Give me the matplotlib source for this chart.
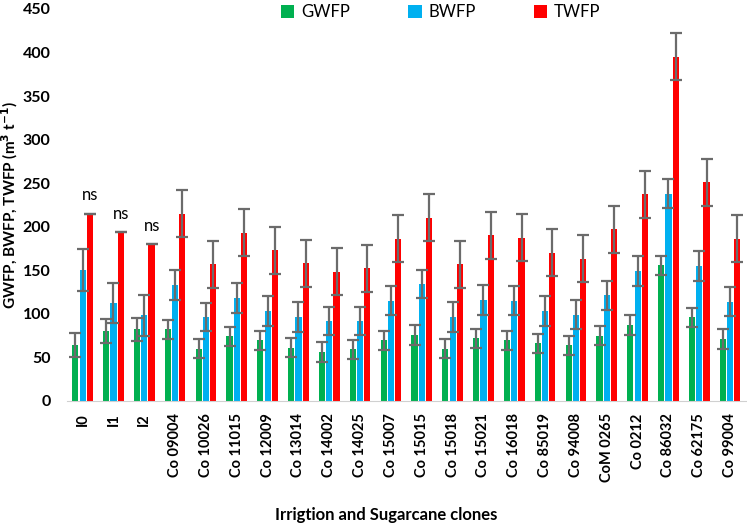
import numpy as np
import matplotlib.pyplot as plt

plt.rcParams['font.family'] = ['Lato', 'DejaVu Sans']

clones = ["I0", "I1", "I2", "Co 09004", "Co 10026", "Co 11015", "Co 12009",
          "Co 13014", "Co 14002", "Co 14025", "Co 15007", "Co 15015",
          "Co 15018", "Co 15021", "Co 16018", "Co 85019", "Co 94008",
          "CoM 0265", "Co 0212", "Co 86032", "Co 62175", "Co 99004"]

gwfp = [64, 80, 82, 82, 60, 74, 69.5, 61, 56, 59, 69.5, 75.5,
        60, 72, 69.5, 66, 64, 75, 87, 155.5, 96, 71]
bwfp = [150.5, 112, 98, 133, 96, 118, 103, 96, 92, 92, 115, 134,
        96, 116, 115, 103, 99, 121, 149, 238, 155, 114]
twfp = [214, 194, 180, 215, 157, 193, 173, 158, 148, 152, 186, 210,
        157, 190, 187, 170, 163, 197, 237, 395, 251, 186]

gwfp_err = [14, 14, 13, 11, 11, 11, 11, 11, 11, 11, 11, 11,
            11, 11, 11, 11, 11, 11, 11, 11, 11, 11]
bwfp_err = [24, 23, 24, 17, 16, 17, 17, 17, 16, 16, 17, 16,
            17, 17, 17, 17, 17, 17, 17, 17, 17, 17]
twfp_err = [0, 0, 0, 27, 27, 27, 27, 27, 27, 27, 27, 27,
            27, 27, 27, 27, 27, 27, 27, 27, 27, 27]

ns_labels = ["ns", "ns", "ns"]
ns_heights = [236, 215, 201]

x = np.arange(len(clones))
w = 0.2
off = 0.235

fig = plt.figure(figsize=(7.47, 5.26), dpi=100)
ax = fig.add_axes([0.09, 0.238, 0.908, 0.745])

ekw = dict(ecolor="#6b6b6b", elinewidth=1.6, capsize=4, capthick=1.6)
ax.bar(x - off, gwfp, w, yerr=gwfp_err, color="#00B050", label="GWFP", error_kw=ekw)
ax.bar(x, bwfp, w, yerr=bwfp_err, color="#00B0F0", label="BWFP", error_kw=ekw)
ax.bar(x + off, twfp, w, yerr=twfp_err, color="#FF0000", label="TWFP", error_kw=ekw)

for i, (lab, h) in enumerate(zip(ns_labels, ns_heights)):
    ax.text(i + 0.25, h, lab, ha="center", va="center", fontsize=12)

ax.set_xlim(-0.5, 21.5)
ax.set_ylim(0, 450)
ax.set_yticks(range(0, 451, 50))
ax.set_xticks(x)
ax.set_xticklabels(clones, rotation=90, fontsize=10.5, fontweight="bold")
for lab in ax.get_yticklabels():
    lab.set_fontweight("bold")
ax.tick_params(axis="y", labelsize=11.5, length=0, pad=12)
ax.tick_params(axis="x", length=0, pad=9)

for s in ["top", "right", "left"]:
    ax.spines[s].set_visible(False)
ax.spines["bottom"].set_color("#d0d0d0")

ax.set_ylabel("GWFP, BWFP, TWFP (m$^\\mathbf{3}$ t$^\\mathbf{-1}$)",
              fontsize=11, fontweight="bold")
ax.yaxis.set_label_coords(-0.07, 0.5)
ax.set_xlabel("Irrigtion and Sugarcane clones", fontsize=12, fontweight="bold")
ax.xaxis.set_label_coords(0.47, -0.27)

fig.legend(loc="center", bbox_to_anchor=(0.59, 0.977), ncol=3, frameon=False,
           fontsize=12, handlelength=0.8, handleheight=0.8, columnspacing=3.5,
           handletextpad=0.4)

fig.savefig("out.png", dpi=100)
